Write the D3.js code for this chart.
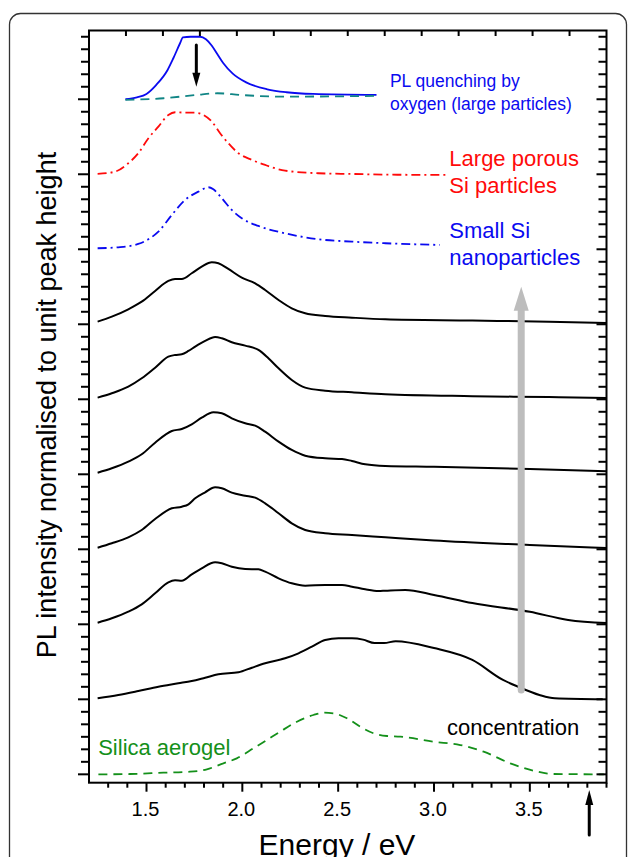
<!DOCTYPE html>
<html><head><meta charset="utf-8">
<script src="https://cdn.jsdelivr.net/npm/d3@7/dist/d3.min.js"></script>
<style>
body{margin:0;background:#fff;}
svg{display:block;font-family:"Liberation Sans",Arial,Helvetica,sans-serif;}
</style>
</head><body>
<svg id="chart" width="629" height="857"></svg>
<script>
// ---------- DATA ----------
const xDomain = [1.2, 3.9];
const yDomain = [-0.134, 11.9];
const xMajorTicks = [1.5, 2.0, 2.5, 3.0, 3.5];
const xMinorTicks = d3.range(13, 40).map(v => v / 10);
const xTopTicks = d3.range(1, 14).map(k => 1.2 + k * 2.7 / 14);
const yMinorTicks = d3.range(0, 60).map(k => k * 0.2);
const yMajorTicks = d3.range(0, 10).map(k => k * 1.2);

// offsets of each trace (unit peak height, stacked by 1.2)
const offsets = {
  quenchBefore: 10.8, quenchAfter: 10.8, largePorous: 9.6, smallSi: 8.4,
  conc1: 7.2, conc2: 6.0, conc3: 4.8, conc4: 3.6, conc5: 2.4, conc6: 1.2, aerogel: 0
};

const quenchBefore = [[1.39,0.0],[1.45,0.03],[1.50,0.085],[1.55,0.227],[1.61,0.469],[1.64,0.656],[1.675,0.896],[1.69,0.99],[1.73,1.0],[1.78,1.0],[1.81,0.96],[1.84,0.86],[1.87,0.72],[1.90,0.58],[1.95,0.41],[2.02,0.27],[2.13,0.16],[2.23,0.112],[2.37,0.085],[2.70,0.069]];
const quenchAfter = [[1.39,-0.01],[1.59,0.016],[1.76,0.069],[1.87,0.096],[1.99,0.069],[2.20,0.042],[2.70,0.053]];
const largePorous = [[1.245,0.005],[1.336,0.042],[1.405,0.176],[1.457,0.336],[1.510,0.576],[1.562,0.762],[1.614,0.949],[1.649,0.992],[1.701,0.986],[1.754,0.986],[1.797,0.949],[1.841,0.842],[1.884,0.656],[1.927,0.496],[1.980,0.336],[2.050,0.229],[2.119,0.149],[2.223,0.058],[2.397,0.016],[2.572,0.005],[2.746,-0.006],[3.06,-0.01]];
const smallSi = [[1.245,0.016],[1.353,0.032],[1.457,0.085],[1.510,0.16],[1.562,0.282],[1.632,0.549],[1.701,0.789],[1.771,0.922],[1.823,0.992],[1.849,0.96],[1.893,0.816],[1.945,0.629],[1.997,0.496],[2.084,0.373],[2.223,0.256],[2.397,0.16],[2.572,0.122],[2.746,0.096],[3.03,0.07]];
const conc1 = [[1.245,0.042],[1.319,0.122],[1.405,0.24],[1.475,0.362],[1.545,0.533],[1.614,0.693],[1.649,0.725],[1.684,0.725],[1.736,0.816],[1.788,0.922],[1.841,0.992],[1.875,0.976],[1.927,0.885],[1.997,0.746],[2.067,0.656],[2.119,0.549],[2.189,0.389],[2.258,0.256],[2.328,0.176],[2.432,0.133],[2.572,0.106],[2.746,0.08],[3.2,0.06],[3.6,0.04],[3.9,0.02]];
const conc2 = [[1.245,0.026],[1.319,0.096],[1.405,0.202],[1.475,0.336],[1.545,0.506],[1.614,0.682],[1.649,0.709],[1.684,0.72],[1.719,0.773],[1.754,0.842],[1.806,0.933],[1.858,0.997],[1.893,0.976],[1.945,0.912],[2.015,0.858],[2.084,0.789],[2.136,0.656],[2.189,0.496],[2.258,0.309],[2.328,0.186],[2.432,0.138],[2.572,0.112],[2.746,0.08],[3.2,0.05],[3.6,0.035],[3.9,0.02]];
const conc3 = [[1.245,0.026],[1.319,0.096],[1.405,0.202],[1.475,0.32],[1.545,0.506],[1.632,0.693],[1.684,0.725],[1.736,0.8],[1.788,0.906],[1.849,0.992],[1.893,0.976],[1.945,0.896],[2.015,0.816],[2.067,0.778],[2.119,0.682],[2.189,0.522],[2.258,0.389],[2.328,0.298],[2.432,0.256],[2.520,0.245],[2.572,0.213],[2.641,0.16],[2.746,0.133],[3.0,0.12],[3.5,0.085],[3.9,0.05]];
const conc4 = [[1.245,0.026],[1.319,0.096],[1.405,0.192],[1.475,0.309],[1.545,0.485],[1.632,0.656],[1.684,0.682],[1.719,0.72],[1.754,0.816],[1.806,0.912],[1.858,0.992],[1.893,0.976],[1.945,0.906],[2.015,0.858],[2.067,0.826],[2.119,0.736],[2.189,0.576],[2.258,0.416],[2.328,0.309],[2.432,0.256],[2.572,0.229],[2.746,0.192],[3.0,0.14],[3.5,0.07],[3.9,0.02]];
const conc5 = [[1.245,0.026],[1.319,0.096],[1.405,0.202],[1.475,0.32],[1.545,0.496],[1.614,0.672],[1.649,0.704],[1.684,0.698],[1.736,0.8],[1.788,0.896],[1.858,0.992],[1.893,0.976],[1.945,0.922],[2.015,0.885],[2.084,0.88],[2.119,0.842],[2.189,0.736],[2.258,0.656],[2.328,0.618],[2.432,0.629],[2.520,0.629],[2.572,0.602],[2.641,0.56],[2.711,0.533],[2.746,0.538],[2.85,0.55],[3.0,0.47],[3.2,0.34],[3.5,0.2],[3.7,0.07],[3.9,0.02]];
const conc6 = [[1.245,0.016],[1.353,0.069],[1.457,0.133],[1.562,0.202],[1.666,0.256],[1.736,0.293],[1.806,0.346],[1.875,0.4],[1.980,0.432],[2.050,0.506],[2.119,0.576],[2.223,0.656],[2.293,0.736],[2.363,0.842],[2.432,0.949],[2.502,0.976],[2.572,0.976],[2.63,0.955],[2.69,0.9],[2.74,0.9],[2.8,0.93],[3.0,0.82],[3.2,0.63],[3.36,0.31],[3.44,0.2],[3.55,0.07],[3.63,0.016],[3.88,0.0]];
const aerogel = [[1.249,0],[1.414,0.005],[1.588,0.026],[1.727,0.042],[1.815,0.08],[1.901,0.176],[1.971,0.256],[2.058,0.416],[2.128,0.549],[2.197,0.682],[2.285,0.842],[2.371,0.949],[2.424,0.986],[2.476,0.976],[2.546,0.896],[2.615,0.762],[2.685,0.656],[2.755,0.613],[2.824,0.602],[2.998,0.522],[3.137,0.469],[3.259,0.362],[3.398,0.176],[3.520,0.058],[3.625,0.005],[3.886,0]];

const seriesStyle = [
  {name:"quenchBefore", data:quenchBefore, color:"#0a0af0", width:1.8, dash:null},
  {name:"quenchAfter",  data:quenchAfter,  color:"#108585", width:1.8, dash:"9,6"},
  {name:"largePorous",  data:largePorous,  color:"#ff0a0a", width:1.8, dash:"9,4,2,4"},
  {name:"smallSi",      data:smallSi,      color:"#0a0af0", width:1.8, dash:"9,4,2,4"},
  {name:"conc1", data:conc1, color:"#000", width:2, dash:null},
  {name:"conc2", data:conc2, color:"#000", width:2, dash:null},
  {name:"conc3", data:conc3, color:"#000", width:2, dash:null},
  {name:"conc4", data:conc4, color:"#000", width:2, dash:null},
  {name:"conc5", data:conc5, color:"#000", width:2, dash:null},
  {name:"conc6", data:conc6, color:"#000", width:2, dash:null},
  {name:"aerogel", data:aerogel, color:"#14901a", width:1.8, dash:"9,6"}
];

// ---------- DRAW ----------
const svg = d3.select("#chart");
const plot = {left:89, right:606.5, top:30.5, bottom:782.7};
const x = d3.scaleLinear().domain(xDomain).range([plot.left, plot.right]);
const y = d3.scaleLinear().domain(yDomain).range([plot.bottom, plot.top]);

// outer rounded frame
svg.append("rect").attr("x",9.5).attr("y",13.5).attr("width",617).attr("height",900)
  .attr("rx",11).attr("fill","none").attr("stroke","#333").attr("stroke-width",1.3);

const line = d3.line().curve(d3.curveMonotoneX);
seriesStyle.forEach(s => {
  const off = offsets[s.name];
  svg.append("path")
    .attr("d", line(s.data.map(d => [x(d[0]), y(d[1] + off)])))
    .attr("fill","none").attr("stroke",s.color).attr("stroke-width",s.width)
    .attr("stroke-dasharray", s.dash).attr("stroke-linejoin","round");
});

// axes frame
const ax = svg.append("g").attr("stroke","#000").attr("stroke-width",2).attr("fill","none");
ax.append("rect").attr("x",plot.left).attr("y",plot.top)
  .attr("width",plot.right-plot.left).attr("height",plot.bottom-plot.top);

// bottom ticks (outward)
xMinorTicks.forEach(v => {
  const major = xMajorTicks.some(m => Math.abs(m-v) < 1e-6);
  ax.append("line").attr("x1",x(v)).attr("x2",x(v)).attr("y1",plot.bottom).attr("y2",plot.bottom + (major?9:5));
});
// top ticks (inward)
xTopTicks.forEach(v => {
  ax.append("line").attr("x1",x(v)).attr("x2",x(v)).attr("y1",plot.top).attr("y2",plot.top + 5.5);
});
// left (outward) and right (inward) ticks
yMinorTicks.forEach(v => {
  const major = yMajorTicks.some(m => Math.abs(m-v) < 1e-6);
  const len = major ? 11 : 8;
  ax.append("line").attr("x1",plot.left - len).attr("x2",plot.left).attr("y1",y(v)).attr("y2",y(v));
  ax.append("line").attr("x1",plot.right - (major?10:8)).attr("x2",plot.right).attr("y1",y(v)).attr("y2",y(v));
});

// tick labels
svg.append("g").selectAll("text").data(xMajorTicks).join("text")
  .attr("x", d => x(d) - 1).attr("y", 816).attr("text-anchor","middle")
  .attr("font-size",20).attr("fill","#000").text(d => d.toFixed(1));

// axis titles
svg.append("text").attr("x",337).attr("y",855).attr("text-anchor","middle")
  .attr("font-size",30).attr("fill","#000").text("Energy / eV");
svg.append("text").attr("transform","translate(56,405) rotate(-90)").attr("text-anchor","middle")
  .attr("font-size",27).attr("fill","#000").text("PL intensity normalised to unit peak height");

// annotations
const annot = [
  {t:"PL quenching by", e:2.77, v:11.0, c:"#0a0af0", s:17.5},
  {t:"oxygen (large particles)", e:2.77, v:10.63, c:"#0a0af0", s:17.5},
  {t:"Large porous", e:3.08, v:9.73, c:"#ff0a0a", s:22},
  {t:"Si particles", e:3.08, v:9.3, c:"#ff0a0a", s:22},
  {t:"Small Si", e:3.08, v:8.58, c:"#0a0af0", s:22},
  {t:"nanoparticles", e:3.08, v:8.15, c:"#0a0af0", s:22},
  {t:"concentration", e:3.068, v:0.632, c:"#000", s:22},
  {t:"Silica aerogel", e:1.248, v:0.311, c:"#14901a", s:22}
];
annot.forEach(a => svg.append("text").attr("x",x(a.e)).attr("y",y(a.v))
  .attr("font-size",a.s).attr("fill",a.c).text(a.t));

// arrows
function arrow(e, vFrom, vTo, shaftW, headW, headL, color){
  const xp = x(e), y0 = y(vFrom), y1 = y(vTo);
  const dir = y1 < y0 ? -1 : 1;
  const yb = y1 - dir*headL;
  svg.append("line").attr("x1",xp).attr("x2",xp).attr("y1",y0).attr("y2",yb)
    .attr("stroke",color).attr("stroke-width",shaftW).attr("stroke-linecap","round");
  svg.append("path").attr("d",`M${xp-headW/2},${yb} L${xp+headW/2},${yb} L${xp},${y1} Z`).attr("fill",color);
}
const concArrow = {e:3.455, from:1.35, to:7.8};
const quenchArrow = {e:1.76, from:11.67, to:11.0};
const excitationArrow = {e:3.81, from:-0.97, to:-0.25};
arrow(concArrow.e, concArrow.from, concArrow.to, 7, 15, 24, "#bdbdbd");
arrow(quenchArrow.e, quenchArrow.from, quenchArrow.to, 3, 8, 14, "#000");
arrow(excitationArrow.e, excitationArrow.from, excitationArrow.to, 3, 8, 15, "#000");
</script>
</body></html>
